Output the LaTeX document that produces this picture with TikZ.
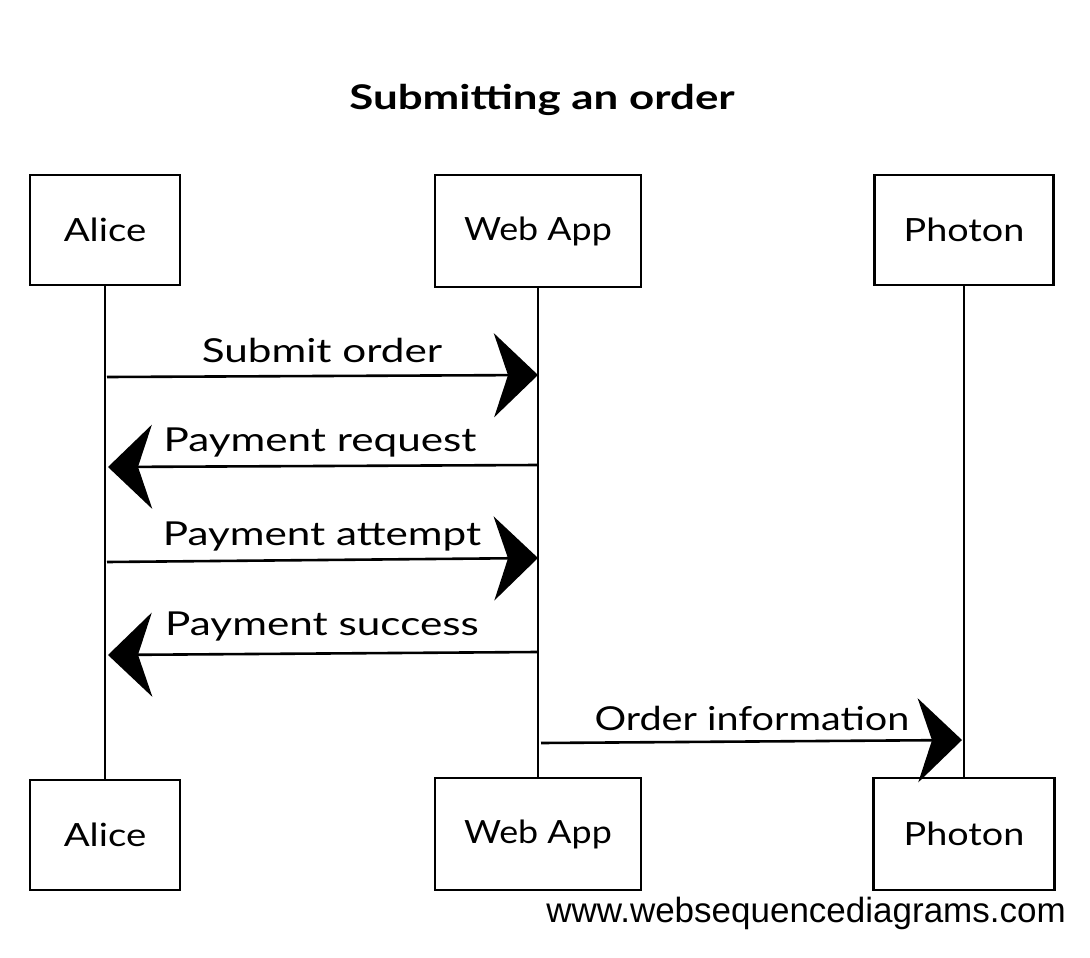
\documentclass[tikz,border=0pt]{standalone}
\usepackage{fontspec}
\setmainfont{Lato}
\newfontfamily\footfont{Liberation Sans}
\usetikzlibrary{arrows.meta}
\newcommand\wider[2]{\scalebox{#1}[1]{#2}}
\begin{document}
\begin{tikzpicture}[x=1pt,y=-1pt,
  actor/.style={draw,line width=2.6pt,inner sep=0pt,font=\fontsize{32}{36}\selectfont},
  life/.style={line width=1.6pt},
  msg/.style={line width=2.6pt,-{Stealth[length=44pt,width=84pt,inset=14pt]}},
  lbl/.style={font=\fontsize{33}{38}\selectfont,inner sep=0pt}]
\useasboundingbox (0,0) rectangle (1090,958);
\node[font=\fontsize{34}{40}\selectfont\bfseries] (title) at (542,100) {\wider{1.29}{Submitting an order}};
\node[actor,minimum width=150pt,minimum height=110pt] (aT) at (105,230) {\wider{1.2}{Alice}};
\node[actor,minimum width=206pt,minimum height=112pt] (wT) at (538,231) {\wider{1.12}{Web App}};
\node[actor,minimum width=179pt,minimum height=110pt] (pT) at (964,230) {\wider{1.18}{Photon}};
\node[actor,minimum width=150pt,minimum height=110pt] (aB) at (105,835) {\wider{1.2}{Alice}};
\node[actor,minimum width=206pt,minimum height=112pt] (wB) at (538,834) {\wider{1.12}{Web App}};
\node[actor,minimum width=181pt,minimum height=112pt] (pB) at (964,834) {\wider{1.18}{Photon}};
\draw[life] (aT.south) -- (aB.north);
\draw[life] (wT.south) -- (wB.north);
\draw[life] (pT.south) -- (pB.north);
\coordinate (a1) at (107,377); \coordinate (w1) at (538,375);
\coordinate (a2) at (108,467); \coordinate (w2) at (538,465);
\coordinate (a3) at (107,562); \coordinate (w3) at (538,558);
\coordinate (a4) at (108,655); \coordinate (w4) at (537,652);
\coordinate (w5) at (541,743); \coordinate (p5) at (962,740);
\draw[msg] (a1) -- (w1);
\draw[msg] (w2) -- (a2);
\draw[msg] (a3) -- (w3);
\draw[msg] (w4) -- (a4);
\draw[msg] (w5) -- (p5);
\node[lbl] (l1) at (322,350) {\wider{1.28}{Submit order}};
\node[lbl] (l2) at (320,443) {\wider{1.28}{Payment request}};
\node[lbl] (l3) at (322,537) {\wider{1.28}{Payment attempt}};
\node[lbl] (l4) at (322,627) {\wider{1.28}{Payment success}};
\node[lbl] (l5) at (752,718) {\wider{1.2}{Order information}};
\node[font=\footfont\fontsize{35}{40}\selectfont,anchor=east,inner sep=0pt] (foot) at (1066,913) {www.websequencediagrams.com};
\end{tikzpicture}
\end{document}
